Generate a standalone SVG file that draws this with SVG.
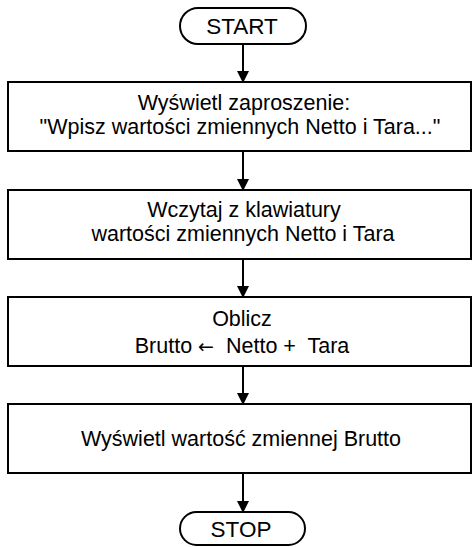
<svg xmlns="http://www.w3.org/2000/svg" width="472" height="547" viewBox="0 0 472 547">
  <style>
    .box { fill: #ffffff; stroke: #000000; stroke-width: 2; }
    .term { fill: #ffffff; stroke: #000000; stroke-width: 2; }
    .lbl { font-family: "Liberation Sans", Arial, sans-serif; font-size: 21.5px; fill: #000000; text-anchor: middle; white-space: pre; }
    .tl { font-size: 22.5px; }
    .sym { font-family: "DejaVu Sans", sans-serif; font-size: 19px; }
    .edge { stroke: #000000; stroke-width: 2; fill: none; marker-end: url(#arrow); }
  </style>
  <defs>
    <marker id="arrow" markerWidth="12" markerHeight="12" refX="11" refY="6" orient="auto" markerUnits="userSpaceOnUse">
      <path d="M0,0 L12,6 L0,12 Z" fill="#000000"/>
    </marker>
  </defs>
  <rect width="472" height="547" fill="#ffffff"/>

  <g id="connectors">
    <line class="edge" x1="243" y1="44" x2="243" y2="82"/>
    <line class="edge" x1="243" y1="151" x2="243" y2="190"/>
    <line class="edge" x1="243" y1="259" x2="243" y2="297"/>
    <line class="edge" x1="243" y1="366" x2="243" y2="404"/>
    <line class="edge" x1="243" y1="473" x2="243" y2="512"/>
  </g>

  <g id="start">
    <rect class="term" x="180" y="8" width="126" height="36" rx="18" ry="18"/>
    <text class="lbl tl" x="242" y="34">START</text>
  </g>

  <g id="prompt">
    <rect class="box" x="8" y="82" width="463" height="69"/>
    <text class="lbl" x="244" y="110">Wyświetl zaproszenie:</text>
    <text class="lbl" x="240" y="134">"Wpisz wartości zmiennych Netto i Tara..."</text>
  </g>

  <g id="read">
    <rect class="box" x="8" y="190" width="463" height="69"/>
    <text class="lbl" x="244" y="217">Wczytaj z klawiatury</text>
    <text class="lbl" x="243" y="241">wartości zmiennych Netto i Tara</text>
  </g>

  <g id="compute">
    <rect class="box" x="8" y="297" width="463" height="69"/>
    <text class="lbl" x="242" y="326">Oblicz</text>
    <text class="lbl" x="242" y="353">Brutto <tspan class="sym">←</tspan>  Netto +  Tara</text>
  </g>

  <g id="print">
    <rect class="box" x="8" y="404" width="463" height="69"/>
    <text class="lbl" x="241" y="446">Wyświetl wartość zmiennej Brutto</text>
  </g>

  <g id="stop">
    <rect class="term" x="180" y="512" width="125" height="33" rx="16.5" ry="16.5"/>
    <text class="lbl tl" x="241" y="537">STOP</text>
  </g>
</svg>
